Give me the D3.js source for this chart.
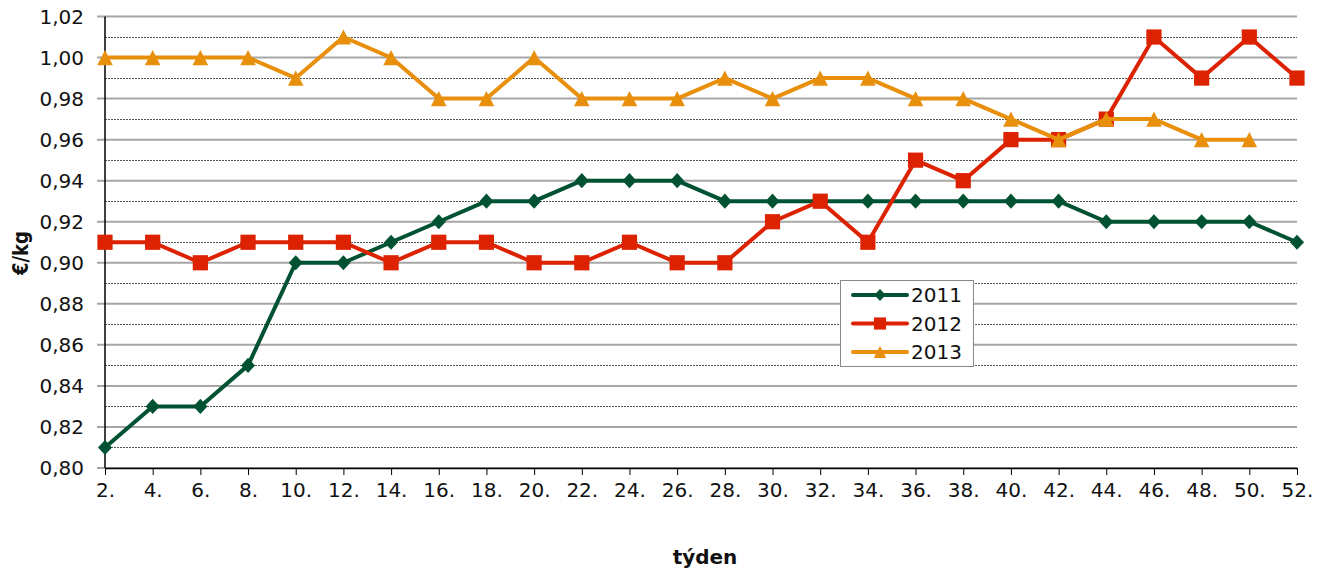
<!DOCTYPE html>
<html><head><meta charset="utf-8">
<script src="https://cdn.jsdelivr.net/npm/d3@7"></script>
<style>body{margin:0;background:#fff}svg{display:block;font-family:"DejaVu Sans",Verdana,sans-serif}</style>
</head><body><svg id="c" width="1326" height="569"></svg>
<script>
const weeks = ["2.","4.","6.","8.","10.","12.","14.","16.","18.","20.","22.","24.","26.","28.","30.","32.","34.","36.","38.","40.","42.","44.","46.","48.","50.","52."];
const s2011 = [0.81,0.83,0.83,0.85,0.90,0.90,0.91,0.92,0.93,0.93,0.94,0.94,0.94,0.93,0.93,0.93,0.93,0.93,0.93,0.93,0.93,0.92,0.92,0.92,0.92,0.91];
const s2012 = [0.91,0.91,0.90,0.91,0.91,0.91,0.90,0.91,0.91,0.90,0.90,0.91,0.90,0.90,0.92,0.93,0.91,0.95,0.94,0.96,0.96,0.97,1.01,0.99,1.01,0.99];
const s2013 = [1.00,1.00,1.00,1.00,0.99,1.01,1.00,0.98,0.98,1.00,0.98,0.98,0.98,0.99,0.98,0.99,0.99,0.98,0.98,0.97,0.96,0.97,0.97,0.96,0.96,null];
const seriesNames = ["2011","2012","2013"];
const colors = ["#005232","#dc2200","#e88f0c"];
const yTicks = [0.80,0.82,0.84,0.86,0.88,0.90,0.92,0.94,0.96,0.98,1.00,1.02];
const yMinor = [0.81,0.83,0.85,0.87,0.89,0.91,0.93,0.95,0.97,0.99,1.01];

function marker(i, k){
  if(i===0){ const w=7*k, h=7.6*k; return `M0,${-h}L${w},0L0,${h}L${-w},0Z`; }
  if(i===1){ const s=7.6*k; return `M${-s},${-s}H${s}V${s}H${-s}Z`; }
  const w=7.8*k, h=7.6*k; return `M0,${-h}L${w},${h}L${-w},${h}Z`;
}

const svg = d3.select("#c");
const L=105, R=1297, T=16.5, B=468;
const x = d3.scalePoint().domain(weeks).range([L,R]);
const y = d3.scaleLinear().domain([0.80,1.02]).range([B,T]);

svg.append("g").selectAll("line").data(yMinor).join("line")
  .attr("x1",L).attr("x2",R).attr("y1",d=>Math.round(y(d))+0.5).attr("y2",d=>Math.round(y(d))+0.5)
  .attr("stroke","#555").attr("stroke-width",1).attr("stroke-dasharray","2,1");
svg.append("g").selectAll("line").data(yTicks).join("line")
  .attr("x1",L-8).attr("x2",R).attr("y1",d=>y(d)).attr("y2",d=>y(d))
  .attr("stroke","#a6a6a6").attr("stroke-width",2);

const fmt = d=>d3.format(".2f")(d).replace(".",",");
svg.append("g").selectAll("text").data(yTicks).join("text")
  .attr("x",84).attr("y",d=>y(d)).attr("dy","0.36em").attr("text-anchor","end")
  .attr("font-size",20).attr("fill","#111").text(fmt);

const xa = svg.append("g").attr("transform",`translate(0,${B})`)
  .call(d3.axisBottom(x).tickSizeInner(7).tickSizeOuter(0).tickPadding(8));
xa.select(".domain").attr("stroke","#000").attr("stroke-width",1.5);
xa.selectAll(".tick line").attr("stroke","#000").attr("stroke-width",1);
xa.selectAll(".tick text").attr("font-size",20).attr("fill","#111").attr("font-family","DejaVu Sans, Verdana, sans-serif");
svg.append("line").attr("x1",L).attr("x2",L).attr("y1",T).attr("y2",B).attr("stroke","#000").attr("stroke-width",1.5);

const all = [s2011,s2012,s2013];
all.forEach((s,i)=>{
  const pts = s.map((v,j)=>({w:weeks[j],v})).filter(d=>d.v!=null);
  svg.append("path").datum(pts)
    .attr("d",d3.line().x(d=>x(d.w)).y(d=>y(d.v)))
    .attr("fill","none").attr("stroke",colors[i]).attr("stroke-width",4).attr("stroke-linejoin","round");
  svg.append("g").selectAll("path").data(pts).join("path")
    .attr("transform",d=>`translate(${x(d.w)},${y(d.v)})`)
    .attr("d",marker(i,1))
    .attr("fill",colors[i]);
});

const lg = svg.append("g");
lg.append("rect").attr("x",840.5).attr("y",280.5).attr("width",133).attr("height",86)
  .attr("fill","#fff").attr("stroke","#888").attr("stroke-width",1);
seriesNames.forEach((n,i)=>{
  const yy = 295 + i*28.5;
  lg.append("line").attr("x1",853).attr("x2",907).attr("y1",yy).attr("y2",yy)
    .attr("stroke",colors[i]).attr("stroke-width",4).attr("stroke-linecap","round");
  lg.append("path").attr("transform",`translate(880,${yy})`)
    .attr("d",marker(i,0.8)).attr("fill",colors[i]);
  lg.append("text").attr("x",911).attr("y",yy).attr("dy","0.36em").attr("font-size",20).attr("fill","#111").text(n);
});

svg.append("text").attr("transform","translate(28,253) rotate(-90)").attr("text-anchor","middle")
  .attr("font-size",21).attr("font-weight","bold").attr("fill","#111")
  .attr("textLength",44).attr("lengthAdjust","spacingAndGlyphs").text("€/kg");
svg.append("text").attr("x",705).attr("y",564).attr("text-anchor","middle")
  .attr("font-size",20).attr("font-weight","bold").attr("fill","#111").text("týden");
</script></body></html>
